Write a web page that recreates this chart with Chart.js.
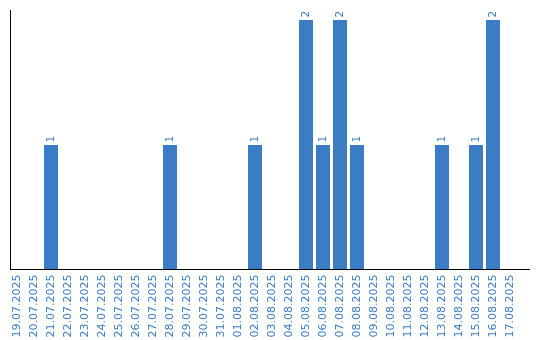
<!DOCTYPE html>
<html>
<head>
<meta charset="utf-8">
<script src="https://cdn.jsdelivr.net/npm/chart.js@4/dist/chart.umd.min.js"></script>
<style>
html,body{margin:0;padding:0;background:#fff;}
#wrap{width:540px;height:340px;position:relative;}
</style>
</head>
<body>
<div id="wrap"><canvas id="c" width="540" height="340"></canvas></div>
<script>
const categories = ["19.07.2025","20.07.2025","21.07.2025","22.07.2025","23.07.2025","24.07.2025","25.07.2025","26.07.2025","27.07.2025","28.07.2025","29.07.2025","30.07.2025","31.07.2025","01.08.2025","02.08.2025","03.08.2025","04.08.2025","05.08.2025","06.08.2025","07.08.2025","08.08.2025","09.08.2025","10.08.2025","11.08.2025","12.08.2025","13.08.2025","14.08.2025","15.08.2025","16.08.2025","17.08.2025"];
const counts = [0,0,1,0,0,0,0,0,0,1,0,0,0,0,1,0,0,2,1,2,1,0,0,0,0,1,0,1,2,0];

const barColor = '#3b7dc4';
const textColor = '#3b7dc4';

const decor = {
  id: 'decor',
  afterDatasetsDraw(chart) {
    const ctx = chart.ctx;
    const ca = chart.chartArea;
    const xs = chart.scales.x;
    const meta = chart.getDatasetMeta(0);
    ctx.save();
    // axis lines
    ctx.strokeStyle = '#000';
    ctx.lineWidth = 1;
    ctx.beginPath();
    ctx.moveTo(ca.left + 2, ca.top - 10);
    ctx.lineTo(ca.left + 2, ca.bottom);
    ctx.moveTo(ca.left + 2, ca.bottom - 0.5);
    ctx.lineTo(ca.right + 11.5, ca.bottom - 0.5);
    ctx.stroke();
    // value labels
    ctx.fillStyle = textColor;
    ctx.font = '10.5px "DejaVu Sans"';
    ctx.textAlign = 'left';
    ctx.textBaseline = 'middle';
    meta.data.forEach((bar, i) => {
      const v = counts[i];
      if (!v) return;
      ctx.save();
      ctx.translate(bar.x, bar.y - 2.5);
      ctx.rotate(-Math.PI / 2);
      ctx.fillText(String(v), 0, 0);
      ctx.restore();
    });
    // tick labels
    ctx.font = '11px "DejaVu Sans"';
    ctx.textAlign = 'right';
    categories.forEach((lab, i) => {
      const x = xs.getPixelForValue(i);
      ctx.save();
      ctx.translate(x, ca.bottom + 4.5);
      ctx.rotate(-Math.PI / 2);
      ctx.fillText(lab, 0, 0);
      ctx.restore();
    });
    ctx.restore();
  }
};

new Chart(document.getElementById('c'), {
  type: 'bar',
  data: {
    labels: categories,
    datasets: [{
      data: counts,
      backgroundColor: barColor,
      borderWidth: 0,
      barPercentage: 14/17,
      categoryPercentage: 1
    }]
  },
  options: {
    responsive: false,
    animation: false,
    devicePixelRatio: 1,
    layout: { padding: { left: 8.5, right: 21.5, top: 20, bottom: 70 } },
    plugins: { legend: { display: false }, tooltip: { enabled: false } },
    scales: {
      x: { display: false, offset: true, grid: { display: false } },
      y: { display: false, min: 0, max: 2, grid: { display: false } }
    }
  },
  plugins: [decor]
});
</script>
</body>
</html>
